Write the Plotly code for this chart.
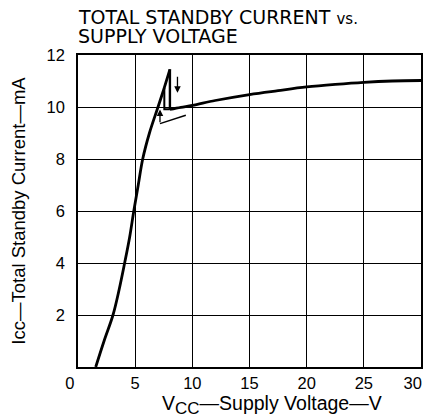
import plotly.graph_objects as go

# Rising branch (up sweep)
vcc_rise = [1.55, 2.28, 3.06, 3.61, 4.08, 4.52, 4.88, 5.27, 5.66, 6.25, 7.0, 7.5, 8.04]
icc_rise = [0.0, 1.0, 2.0, 3.0, 4.0, 5.0, 6.0, 7.0, 8.0, 9.0, 10.0, 10.68, 11.45]

# Drop at the top of the rising branch
vcc_drop = [8.04, 8.04]
icc_drop = [11.45, 9.91]

# Upper branch
vcc_upper = [8.04, 9.0, 10.0, 12.0, 15.0, 17.5, 20.0, 22.5, 25.0, 27.5, 30.0]
icc_upper = [9.91, 9.99, 10.06, 10.25, 10.48, 10.63, 10.77, 10.87, 10.95, 11.0, 11.02]

# Return path of the hysteresis loop (down sweep)
vcc_return = [7.55, 7.55, 8.04]
icc_return = [10.73, 9.91, 9.91]

# Tail of the "up" arrow
vcc_tail = [9.43, 7.17]
icc_tail = [9.68, 9.36]

x_ticks = [0, 5, 10, 15, 20, 25, 30]
x_labels = ["0\u2003", "5", "10", "15", "20", "25", "30\u2003"]
y_ticks = [2, 4, 6, 8, 10, 12]
y_labels = ["2", "4", "6", "8", "10", "12"]

FONT = "Liberation Sans, Arial, Helvetica, sans-serif"
TFONT = "DejaVu Sans, Liberation Sans, sans-serif"

fig = go.Figure()
fig.add_trace(go.Scatter(x=vcc_rise, y=icc_rise, mode="lines", line_shape="spline",
                         line=dict(color="black", width=2.8), showlegend=False))
fig.add_trace(go.Scatter(x=vcc_drop, y=icc_drop, mode="lines",
                         line=dict(color="black", width=2.4), showlegend=False))
fig.add_trace(go.Scatter(x=vcc_upper, y=icc_upper, mode="lines", line_shape="spline",
                         line=dict(color="black", width=2.8), showlegend=False))
fig.add_trace(go.Scatter(x=vcc_return, y=icc_return, mode="lines",
                         line=dict(color="black", width=2), showlegend=False))
fig.add_trace(go.Scatter(x=vcc_tail, y=icc_tail, mode="lines",
                         line=dict(color="black", width=1.5), showlegend=False))

# arrows
fig.add_annotation(x=8.7, y=10.55, ax=8.7, ay=11.22, xref="x", yref="y",
                   axref="x", ayref="y", showarrow=True, arrowhead=2,
                   arrowsize=1, arrowwidth=1.3, arrowcolor="black", text="")
fig.add_annotation(x=7.17, y=9.9, ax=7.17, ay=9.36, xref="x", yref="y",
                   axref="x", ayref="y", showarrow=True, arrowhead=2,
                   arrowsize=1, arrowwidth=1.3, arrowcolor="black", text="")

# title (two lines placed separately for tight line pitch)
fig.add_annotation(text="TOTAL STANDBY CURRENT <span style='font-size:15px'>vs.</span>",
                   xref="paper", yref="paper", x=0, y=1, xanchor="left", yanchor="middle",
                   yshift=38, xshift=-2, align="left", showarrow=False,
                   font=dict(family=TFONT, size=19, color="black"))
fig.add_annotation(text="SUPPLY VOLTAGE",
                   xref="paper", yref="paper", x=0, y=1, xanchor="left", yanchor="middle",
                   yshift=19, xshift=-2, align="left", showarrow=False,
                   font=dict(family=TFONT, size=19, color="black"))

# x-axis title
fig.add_annotation(text="V<sub><span style='font-size:17px'>CC</span></sub>\u2014Supply Voltage\u2014V",
                   xref="paper", yref="paper", x=0.567, y=0, xanchor="center", yanchor="middle",
                   yshift=-38, showarrow=False,
                   font=dict(family=FONT, size=19.5, color="black"))

fig.update_layout(
    width=419, height=409,
    margin=dict(l=70, r=6, t=47, b=50, autoexpand=False),
    paper_bgcolor="white", plot_bgcolor="white",
    font=dict(family=FONT, color="black", size=16),
)
fig.update_xaxes(range=[0, 30], tickvals=x_ticks, ticktext=x_labels,
                 showgrid=True, gridcolor="black", gridwidth=1, automargin=False,
                 showline=True, linecolor="black", linewidth=1.5, mirror=True,
                 ticks="", zeroline=False, tickfont=dict(size=16.5),
                 ticklabeloverflow="allow")
fig.update_yaxes(range=[0, 12], tickvals=y_ticks, ticktext=y_labels,
                 showgrid=True, gridcolor="black", gridwidth=1, automargin=False,
                 showline=True, linecolor="black", linewidth=1.5, mirror=True,
                 ticks="", zeroline=False, tickfont=dict(size=16.5), ticklabelstandoff=8,
                 title=dict(text="Icc\u2014Total Standby Current\u2014mA", font=dict(size=18.5), standoff=27))

fig.write_html("out.html")
